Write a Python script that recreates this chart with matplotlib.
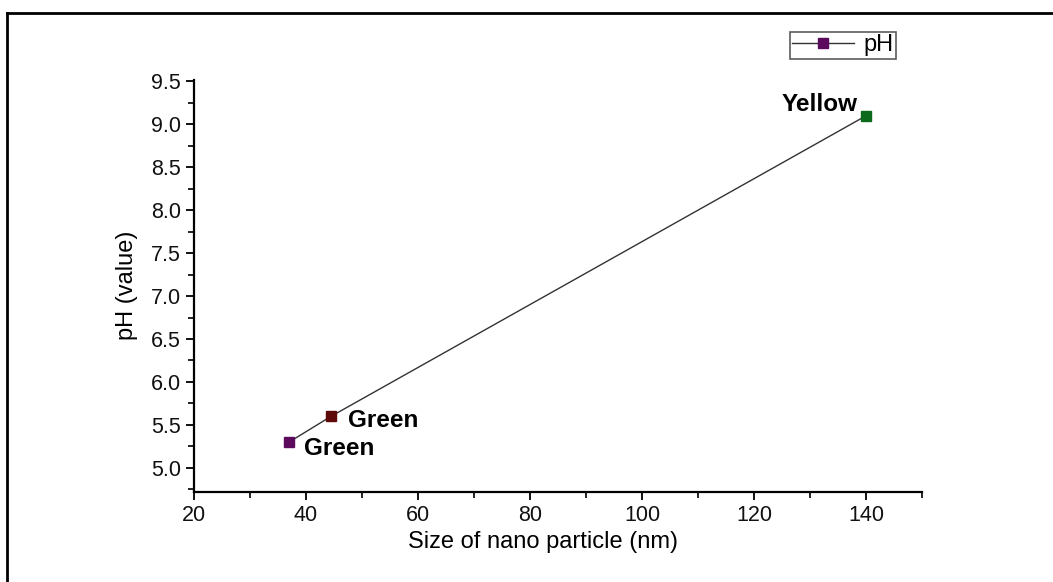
import matplotlib
matplotlib.use("Agg")
import matplotlib.pyplot as plt
from matplotlib.lines import Line2D
from matplotlib.ticker import MultipleLocator

plt.rcParams['font.family'] = ['Liberation Sans', 'DejaVu Sans']

sizes = [37, 44.5, 140]
ph_values = [5.3, 5.6, 9.1]
point_labels = ["Green", "Green", "Yellow"]
marker_colors = ["#5c0a5e", "#5e0a0a", "#0c6a1c"]

fig = plt.figure(figsize=(10.53, 5.82), dpi=100)
ax = fig.add_axes([194/1053, 0.155, 728/1053, 0.708])

ax.plot(sizes, ph_values, color="#333333", lw=1.0, zorder=1)
for x, y, c in zip(sizes, ph_values, marker_colors):
    ax.plot([x], [y], marker="s", ms=7, color=c, mec=c, ls="none", zorder=2)

offsets = [(11, -5, "left"), (12, -3, "left"), (-6, 8, "right")]
for x, y, lab, (dx, dy, ha) in zip(sizes, ph_values, point_labels, offsets):
    ax.annotate(lab, (x, y), xytext=(dx, dy), textcoords="offset points",
                ha=ha, va="center", fontsize=17.5, fontweight="bold")

yticks = [5.0, 5.5, 6.0, 6.5, 7.0, 7.5, 8.0, 8.5, 9.0, 9.5]
xticks = [20, 40, 60, 80, 100, 120, 140]

ax.set_xlim(20, 150)
ax.set_ylim(4.72, 9.52)
ax.xaxis.set_minor_locator(MultipleLocator(10))
ax.yaxis.set_minor_locator(MultipleLocator(0.25))
ax.set_yticks(yticks)
ax.set_yticklabels([f"{v:.1f}" for v in yticks])
ax.set_xticks(xticks)

for s in ["top", "right"]:
    ax.spines[s].set_visible(False)
for s in ["left", "bottom"]:
    ax.spines[s].set_linewidth(1.6)
ax.tick_params(which="major", direction="out", length=6, width=1.4, labelsize=15.5, colors="#111111")
ax.tick_params(which="minor", direction="out", length=4, width=1.2)

ax.set_xlabel("Size of nano particle (nm)", fontsize=17, labelpad=6)
ax.xaxis.set_label_coords(0.48, -0.095)
ax.set_ylabel("pH (value)", fontsize=17, labelpad=9)

handle = Line2D([0], [0], color="#333333", lw=1.0, marker="s", ms=7,
                mfc=marker_colors[0], mec=marker_colors[0])
leg = fig.legend([handle], ["pH"], loc="upper left", bbox_to_anchor=(790/1053, 1 - 32/582),
                 fontsize=17, frameon=True, fancybox=False, edgecolor="#333333",
                 handlelength=2.6, borderpad=0.1, handletextpad=0.4, borderaxespad=0)
leg.get_frame().set_linewidth(1.2)

# outer border lines (top and left)
fig.add_artist(Line2D([7/1053, 1.0], [1 - 13/582, 1 - 13/582], color="black", lw=2,
                      transform=fig.transFigure))
fig.add_artist(Line2D([7/1053, 7/1053], [0, 1 - 13/582], color="black", lw=2,
                      transform=fig.transFigure))

fig.savefig("out.png", dpi=100)
